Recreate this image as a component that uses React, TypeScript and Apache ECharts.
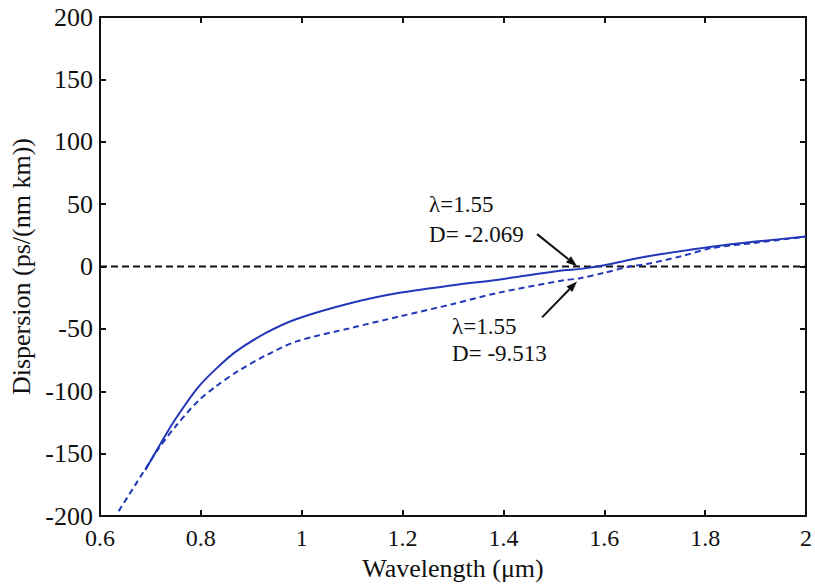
import React, { useEffect, useRef } from "react";
import * as echarts from "echarts";

const xTicks = [0.6, 0.8, 1.0, 1.2, 1.4, 1.6, 1.8, 2.0];
const yTicks = [-200, -150, -100, -50, 0, 50, 100, 150, 200];

const solidX = [0.69, 0.72, 0.75, 0.794, 0.83, 0.87, 0.93, 0.99, 1.1, 1.194, 1.3, 1.39, 1.52, 1.55, 1.6, 1.684, 1.816, 1.9, 2.0];
const solidY = [-163, -142, -122, -97, -82, -68, -53, -42, -29, -21, -15, -10.5, -3, -2.069, 1, 8, 16, 20, 24];

const dashX = [0.637, 0.67, 0.716, 0.75, 0.794, 0.83, 0.873, 0.93, 0.99, 1.1, 1.194, 1.3, 1.39, 1.52, 1.55, 1.6, 1.65, 1.684, 1.75, 1.816, 1.9, 2.0];
const dashY = [-196, -175, -146, -128, -108, -96, -84, -71, -60, -49, -40, -30, -21, -11, -9.513, -5, 0, 2, 8, 15, 19, 24];

const zeroX = [0.6, 2.0];
const zeroY = [0, 0];

const annotations = [
  { x: 1.55, y: -2.069, lines: ["λ=1.55", "D= -2.069"] },
  { x: 1.55, y: -9.513, lines: ["λ=1.55", "D= -9.513"] },
];

const FONT = "'Liberation Serif', 'DejaVu Serif', serif";
const BLUE = "#2338b8";

export default function App() {
  const ref = useRef<HTMLDivElement>(null);
  useEffect(() => {
    if (!ref.current) return;
    const chart = echarts.init(ref.current, null, { renderer: "svg" });
    const axisLine = { show: true, onZero: false, lineStyle: { color: "#111", width: 2 } };
    const axisTick = { show: true, inside: true, length: 6, lineStyle: { color: "#111", width: 2 } };
    chart.setOption({
      animation: false,
      backgroundColor: "#fff",
      grid: { left: 97, right: 6, top: 17, bottom: 68 },
      xAxis: [
        {
          type: "value", min: 0.6, max: 2.0, interval: 0.2, position: "bottom",
          axisLine, axisTick, splitLine: { show: false },
          axisLabel: {
            color: "#111", fontFamily: FONT, fontSize: 24, margin: 10,
            formatter: (v: number) => {
              const r = Math.round(v * 10) / 10;
              return xTicks.includes(r) ? (Number.isInteger(r) ? String(r) : r.toFixed(1)) : "";
            },
          },
          name: "Wavelength (μm)", nameLocation: "middle", nameGap: 37,
          nameTextStyle: { color: "#111", fontFamily: FONT, fontSize: 26 },
        },
        {
          type: "value", min: 0.6, max: 2.0, interval: 0.2, position: "top",
          axisLine, axisTick, axisLabel: { show: false }, splitLine: { show: false },
        },
      ],
      yAxis: [
        {
          type: "value", min: -200, max: 200, interval: 50, position: "left",
          axisLine, axisTick, splitLine: { show: false },
          axisLabel: {
            color: "#111", fontFamily: FONT, fontSize: 26, margin: 7,
            formatter: (v: number) => (yTicks.includes(v) ? String(v) : ""),
          },
          name: "Dispersion (ps/(nm km))", nameLocation: "middle", nameGap: 66,
          nameTextStyle: { color: "#111", fontFamily: FONT, fontSize: 26 },
        },
        {
          type: "value", min: -200, max: 200, interval: 50, position: "right",
          axisLine, axisTick, axisLabel: { show: false }, splitLine: { show: false },
        },
      ],
      series: [
        {
          type: "line", showSymbol: false, z: 1,
          data: zeroX.map((x, i) => [x, zeroY[i]]),
          lineStyle: { color: "#111", width: 2, type: [7, 4] },
        },
        {
          type: "line", showSymbol: false, smooth: 0.3, z: 2,
          data: dashX.map((x, i) => [x, dashY[i]]),
          lineStyle: { color: BLUE, width: 2, type: [6, 4] },
        },
        {
          type: "line", showSymbol: false, smooth: 0.3, z: 3,
          data: solidX.map((x, i) => [x, solidY[i]]),
          lineStyle: { color: BLUE, width: 2 },
        },
      ],
    });

    const offsets = [
      { sx: -40, sy: -32, tx: -150, ty: [-65, -35] },
      { sx: -35, sy: 36, tx: -127, ty: [48, 75] },
    ];
    const graphics: any[] = [];
    annotations.forEach((a, i) => {
      const p = chart.convertToPixel({ gridIndex: 0 }, [a.x, a.y]) as number[];
      const o = offsets[i];
      const tip = [p[0] - 2, p[1] + (i === 0 ? -3 : 3)];
      const start = [tip[0] + o.sx, tip[1] + o.sy];
      const dx = tip[0] - start[0], dy = tip[1] - start[1];
      const len = Math.hypot(dx, dy);
      const ux = dx / len, uy = dy / len;
      const hl = 11, hw = 4;
      const base = [tip[0] - ux * hl, tip[1] - uy * hl];
      graphics.push({
        type: "line", z: 10,
        shape: { x1: start[0], y1: start[1], x2: base[0], y2: base[1] },
        style: { stroke: "#111", lineWidth: 2 },
      });
      graphics.push({
        type: "polygon", z: 10,
        shape: { points: [tip, [base[0] - uy * hw, base[1] + ux * hw], [base[0] + uy * hw, base[1] - ux * hw]] },
        style: { fill: "#111" },
      });
      a.lines.forEach((t, j) => {
        graphics.push({
          type: "text", z: 10,
          x: p[0] + o.tx, y: p[1] + o.ty[j],
          style: { text: t, fill: "#111", font: `23px ${FONT}`, verticalAlign: "middle" },
        });
      });
    });
    chart.setOption({ graphic: graphics });
    return () => chart.dispose();
  }, []);
  return <div ref={ref} style={{ width: 815, height: 586, position: "absolute", left: 0, top: 0 }} />;
}
